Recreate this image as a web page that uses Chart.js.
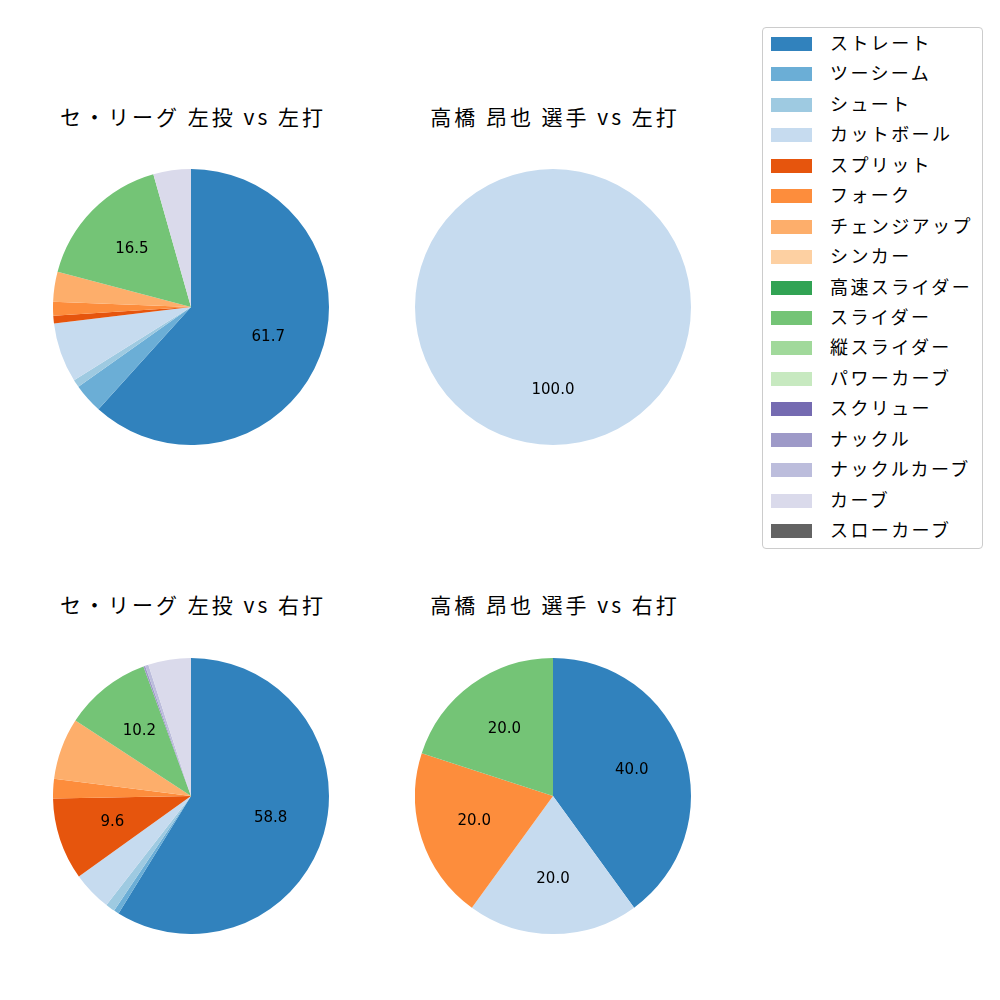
<!DOCTYPE html>
<html>
<head>
<meta charset="utf-8">
<script src="https://cdn.jsdelivr.net/npm/chart.js@4"></script>
<style>
body{margin:0;background:#fff;width:1000px;height:1000px;position:relative;font-family:"Noto Sans CJK JP","DejaVu Sans",sans-serif}
canvas{position:absolute}
.ttl{position:absolute;font-size:21px;letter-spacing:3px;color:#000;white-space:nowrap;transform:translateX(-50%)}
#legend{position:absolute;left:762px;top:27px;width:219px;height:520px;border:1px solid #ccc;border-radius:4px;background:#fff}
.item{position:absolute;left:8px;height:20px;font-size:18px;letter-spacing:2.4px;color:#000;white-space:nowrap}
.sw{position:absolute;left:0;top:3px;width:41px;height:14px}
.lb{position:absolute;left:59px;top:-5px}
</style>
</head>
<body>

<div class="ttl" style="left:193px;top:101px">セ・リーグ 左投 vs 左打</div>
<div class="ttl" style="left:555px;top:101px">高橋 昂也 選手 vs 左打</div>
<div class="ttl" style="left:193px;top:589px">セ・リーグ 左投 vs 右打</div>
<div class="ttl" style="left:555px;top:589px">高橋 昂也 選手 vs 右打</div>

<canvas id="c1" width="276" height="276" style="left:53px;top:169px"></canvas>
<canvas id="c2" width="276" height="276" style="left:415px;top:169px"></canvas>
<canvas id="c3" width="276" height="276" style="left:53px;top:658px"></canvas>
<canvas id="c4" width="276" height="276" style="left:415px;top:658px"></canvas>

<div id="legend"></div>

<script>
// 球種
const pitches=["ストレート","ツーシーム","シュート","カットボール","スプリット","フォーク","チェンジアップ","シンカー","高速スライダー","スライダー","縦スライダー","パワーカーブ","スクリュー","ナックル","ナックルカーブ","カーブ","スローカーブ"]
const colors=["#3182bd","#6baed6","#9ecae1","#c6dbef","#e6550d","#fd8d3c","#fdae6b","#fdd0a2","#31a354","#74c476","#a1d99b","#c7e9c0","#756bb1","#9e9ac8","#bcbddc","#dadaeb","#636363"]

// 割合 (%)
const leagueVsL=[61.7,3.5,0.9,7.0,0.9,1.6,3.5,0,0,16.5,0,0,0,0,0,4.4,0]
const playerVsL=[0,0,0,100.0,0,0,0,0,0,0,0,0,0,0,0,0,0]
const leagueVsR=[58.8,0.6,1.1,4.6,9.6,2.3,7.2,0,0,10.2,0,0,0,0.2,0.4,5.0,0]
const playerVsR=[40.0,0,0,20.0,0,20.0,0,0,0,20.0,0,0,0,0,0,0,0]

// ラベル表示
const pctLabel={
id:'pctLabel',
afterDatasetsDraw(chart){
const ctx=chart.ctx
const meta=chart.getDatasetMeta(0)
const vals=chart.data.datasets[0].data
ctx.save()
ctx.fillStyle='#000'
ctx.font='15px "DejaVu Sans",sans-serif'
ctx.textAlign='center'
ctx.textBaseline='middle'
meta.data.forEach((arc,i)=>{
if(vals[i]<8) return
const p=arc.getProps(['x','y','startAngle','endAngle','outerRadius'],true)
const a=(p.startAngle+p.endAngle)/2
const r=p.outerRadius*0.6
ctx.fillText(vals[i].toFixed(1),p.x+Math.cos(a)*r,p.y+Math.sin(a)*r)
})
ctx.restore()
}
}

function makePie(id,values){
new Chart(document.getElementById(id),{
type:'pie',
data:{
labels:pitches,
datasets:[{
data:values,
backgroundColor:colors,
borderWidth:0
}]
},
options:{
responsive:false,
animation:false,
devicePixelRatio:1,
layout:{padding:0},
plugins:{legend:{display:false},tooltip:{enabled:false}}
},
plugins:[pctLabel]
})
}

makePie('c1',leagueVsL)
makePie('c2',playerVsL)
makePie('c3',leagueVsR)
makePie('c4',playerVsR)

// 凡例
let html=""
pitches.forEach((p,i)=>{
html+=`<div class="item" style="top:${6+i*30.44}px"><div class="sw" style="background:${colors[i]}"></div><div class="lb">${p}</div></div>`
})
document.getElementById("legend").innerHTML=html
</script>
</body>
</html>
